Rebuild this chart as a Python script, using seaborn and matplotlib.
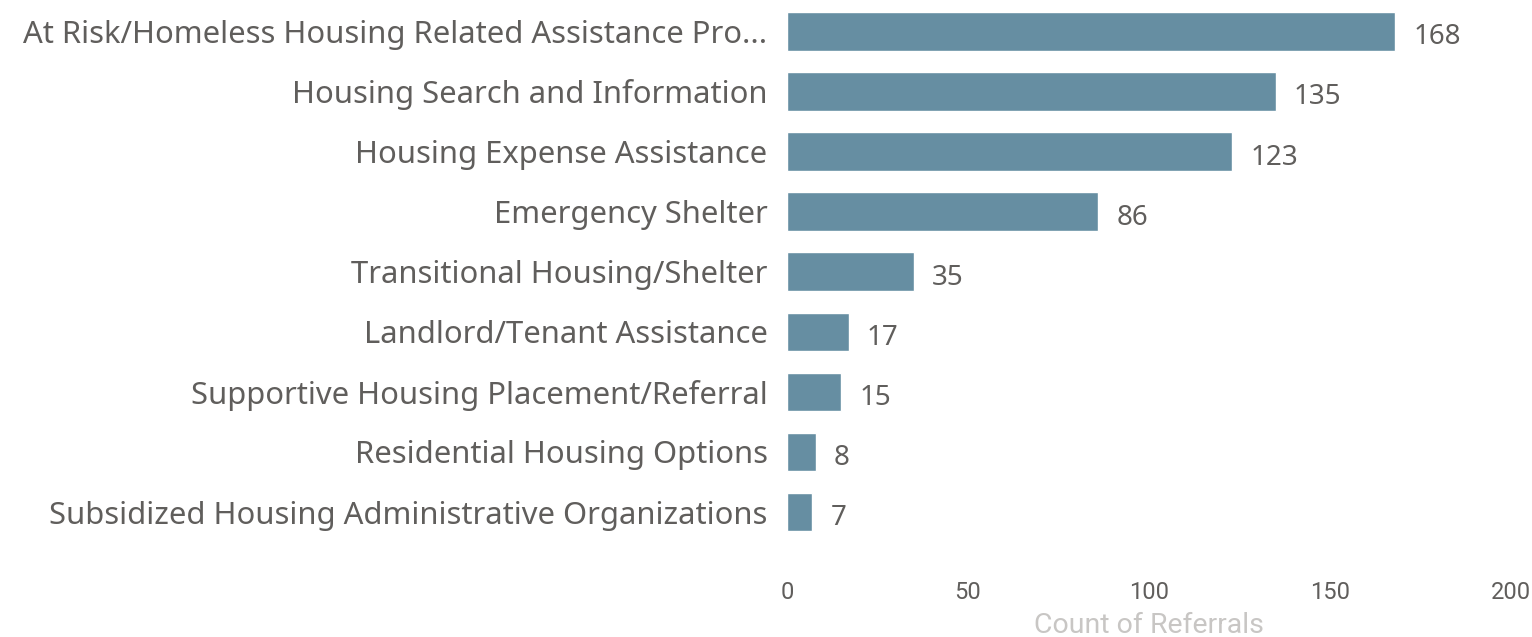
import matplotlib
matplotlib.use("Agg")
import matplotlib.pyplot as plt
import seaborn as sns
import pandas as pd

categories = [
    "At Risk/Homeless Housing Related Assistance Pro...",
    "Housing Search and Information",
    "Housing Expense Assistance",
    "Emergency Shelter",
    "Transitional Housing/Shelter",
    "Landlord/Tenant Assistance",
    "Supportive Housing Placement/Referral",
    "Residential Housing Options",
    "Subsidized Housing Administrative Organizations",
]
counts = [168, 135, 123, 86, 35, 17, 15, 8, 7]
x_ticks = [0, 50, 100, 150, 200]

df = pd.DataFrame({"category": categories, "count": counts})

sns.set_theme(style="white")
plt.rcParams["font.family"] = ["Noto Sans", "DejaVu Sans"]

text_color = "#605e5c"
bar_color = "#668ea2"

fig = plt.figure(figsize=(15.32, 6.37), dpi=100)
ax = fig.add_axes([0.5137, 0.149, 0.4726, 0.849])

sns.barplot(data=df, x="count", y="category", color=bar_color,
            width=0.64, saturation=1, ax=ax)

for i, v in enumerate(counts):
    ax.text(v + 5, i + 0.1, str(v), va="center", ha="left",
            fontsize=20, color=text_color)

ax.set_xlim(0, 200)
ax.set_ylim(8.5, -0.5)
ax.set_xticks(x_ticks)
ax.set_xticklabels([str(t) for t in x_ticks], fontsize=17, color=text_color,
                   family=["Roboto", "DejaVu Sans"])
ax.tick_params(axis="x", length=0, pad=28)
ax.tick_params(axis="y", length=0, pad=14, labelsize=22.3, labelcolor=text_color)
ax.set_ylabel("")
ax.set_xlabel("Count of Referrals", fontsize=20.5, color="#c8c6c4",
              family=["Roboto", "DejaVu Sans"], labelpad=6)
sns.despine(ax=ax, left=True, bottom=True)

fig.savefig("out.png", dpi=100)
